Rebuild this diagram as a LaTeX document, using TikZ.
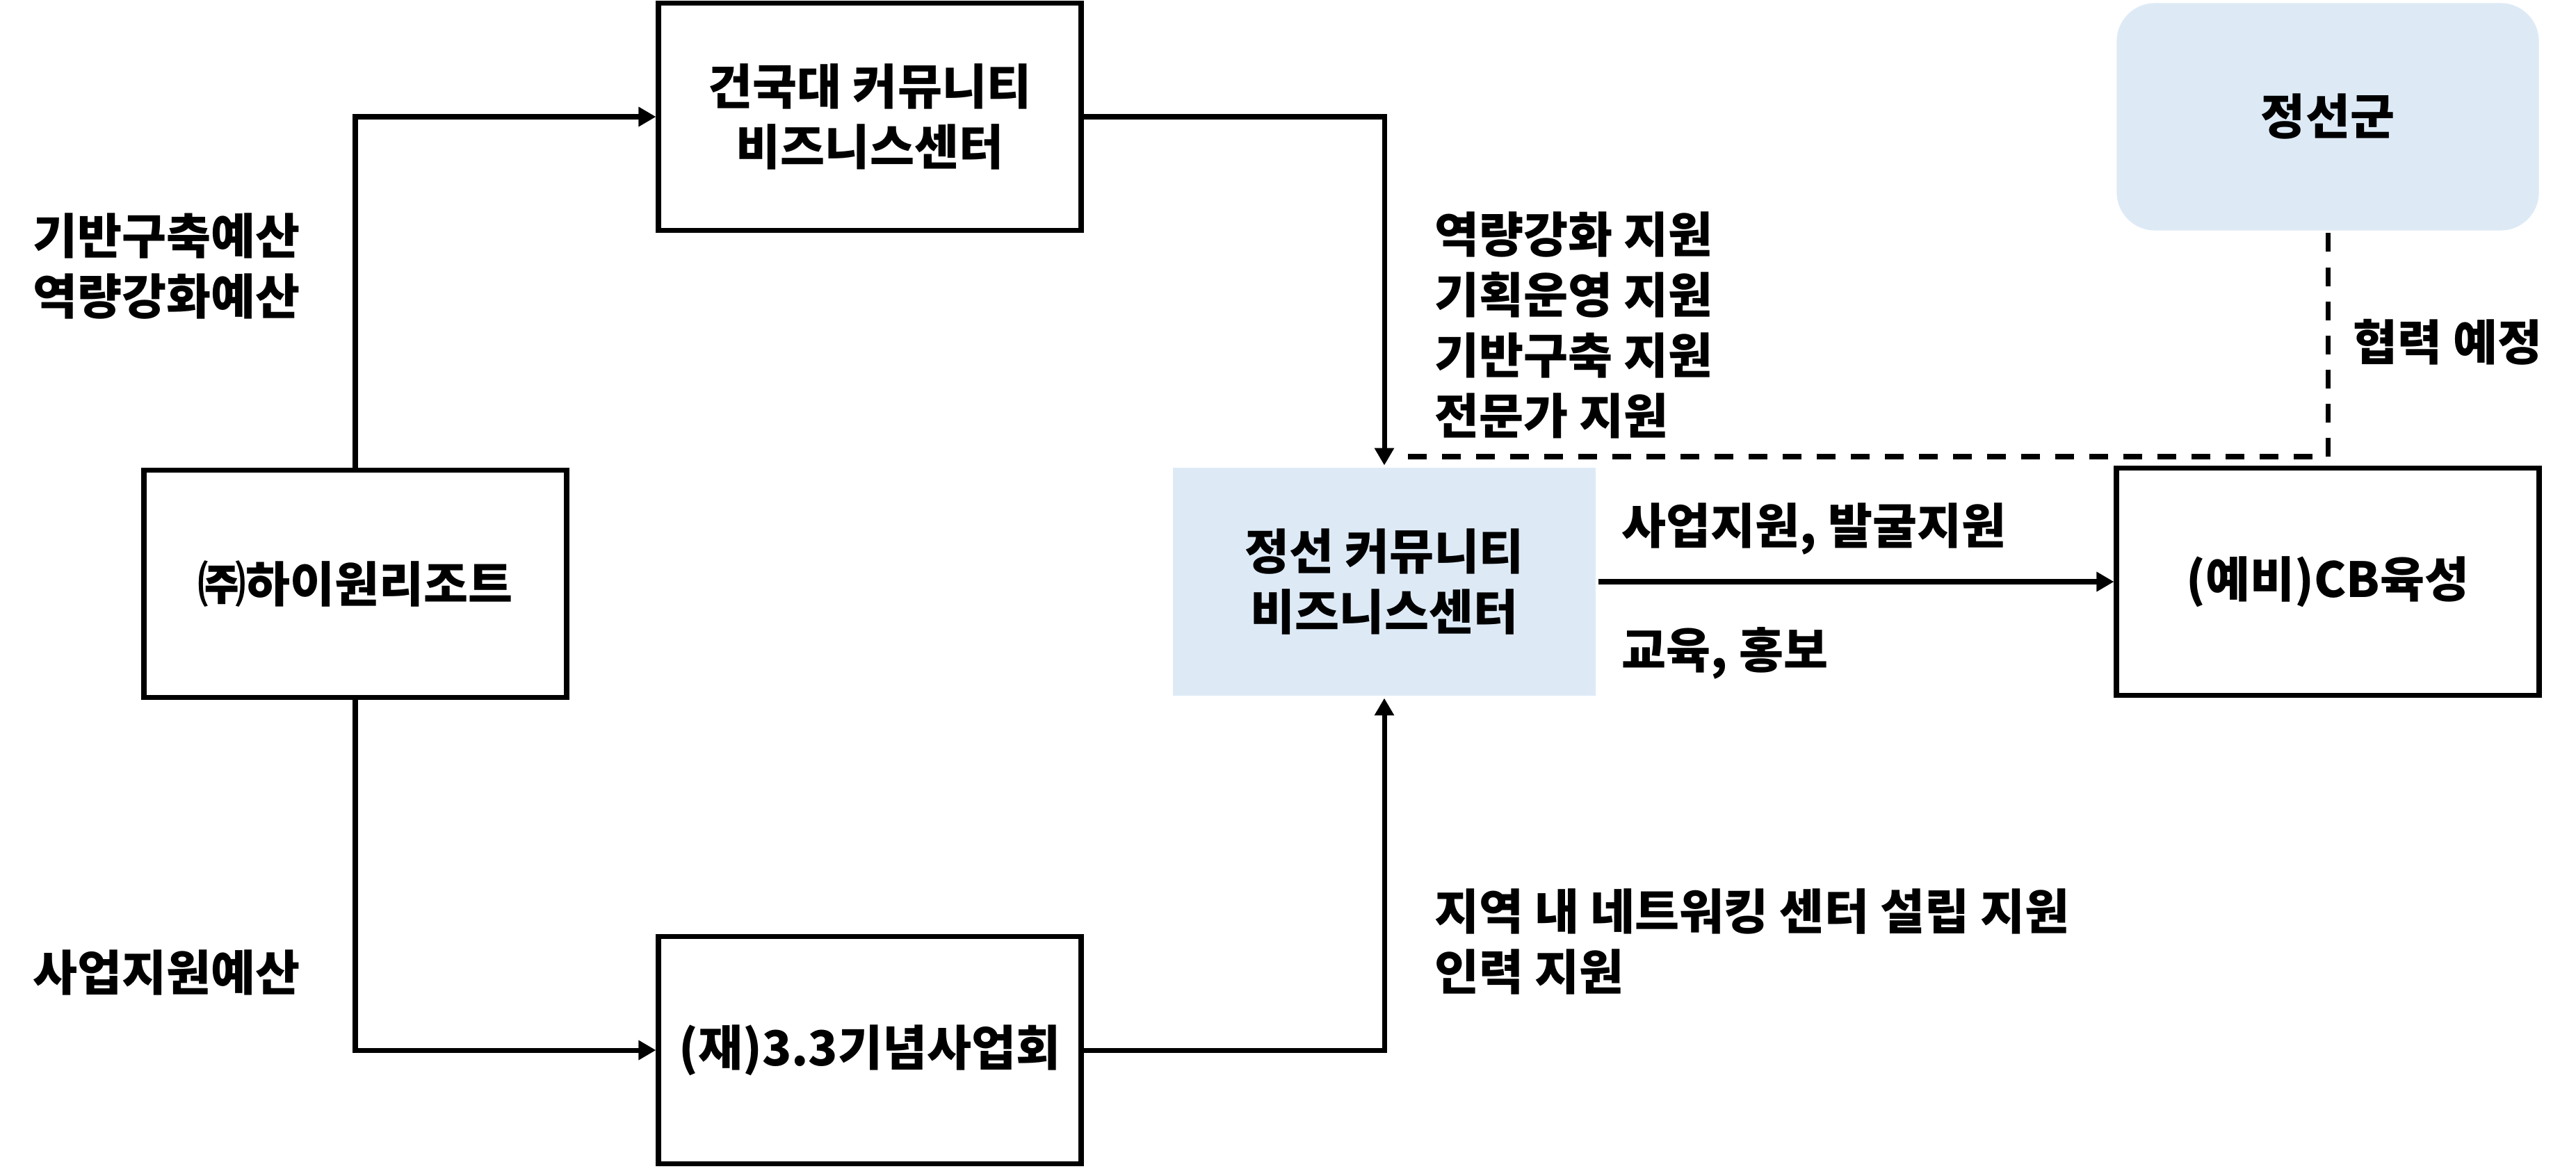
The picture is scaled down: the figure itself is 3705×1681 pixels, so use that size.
\documentclass[tikz,border=0pt]{standalone}
\usepackage{fontspec}
\setmainfont{Noto Sans CJK KR}
\usepackage{tikz}
\usetikzlibrary{arrows.meta}
\definecolor{paleblue}{RGB}{221,234,246}

\begin{document}
\begin{tikzpicture}[x=0.01cm, y=-0.01cm,
    box/.style={draw, line width=2.2pt, minimum width=6.07cm, minimum height=3.27cm,
        align=center, font=\fontsize{19.8}{24.5}\selectfont\bfseries},
    bluebox/.style={box, draw=none, fill=paleblue},
    lbl/.style={anchor=west, inner sep=0pt, align=left,
        font=\fontsize{19.8}{24.7}\selectfont\bfseries},
    conn/.style={line width=2pt, -{Triangle[length=0.25cm, width=0.27cm]}},
    plan/.style={line width=2pt, dash pattern=on 0.27cm off 0.22cm}]
    \useasboundingbox (0, 0) rectangle (3705, 1681);

    % Boxes
    \node[box] (hiwon) at (511, 840) {㈜하이원리조트};
    \node[box] (kku) at (1251, 168) {건국대 커뮤니티\\비즈니스센터};
    \node[box] (found) at (1251, 1511) {(재)3.3기념사업회};
    \node[bluebox] (cbc) at (1991, 837) {정선 커뮤니티\\비즈니스센터};
    \node[box] (cb) at (3348, 837) {(예비)CB육성};
    \node[bluebox, rounded corners=0.55cm] (jsg) at (3348, 168) {정선군};

    % Connectors
    \draw[conn] (hiwon.north) |- (kku.west);
    \draw[conn] (hiwon.south) |- (found.west);
    \draw[conn] (kku.east) -| (cbc.north);
    \draw[conn] (found.east) -| (cbc.south);
    \draw[conn] (cbc.east) -- (cb.west);
    \coordinate (meet) at (2003, 657);
    \draw[plan] (jsg.south) |- (meet);

    % Labels
    \node[lbl] (budgeta) at (47, 383) {기반구축예산\\역량강화예산};
    \node[lbl] (budgetb) at (47, 1399) {사업지원예산};
    \node[lbl] (supporta) at (2063, 468) {역량강화 지원\\기획운영 지원\\기반구축 지원\\전문가 지원};
    \node[lbl] (supportb) at (2063, 1355) {지역 내 네트워킹 센터 설립 지원\\인력 지원};
    \node[lbl] (biz) at (2332, 761) {사업지원, 발굴지원};
    \node[lbl] (edu) at (2332, 940) {교육, 홍보};
    \node[lbl] (coop) at (3384, 492) {협력 예정};
\end{tikzpicture}
\end{document}
